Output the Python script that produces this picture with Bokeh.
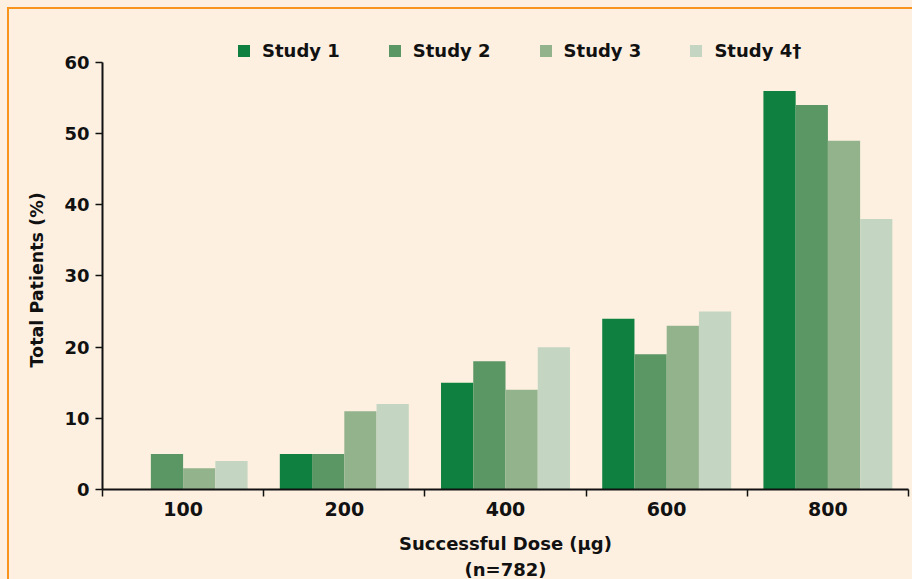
from bokeh.plotting import figure
from bokeh.models import (ColumnDataSource, Range1d, FixedTicker, Legend, LegendItem, Title)
from bokeh.transform import dodge
from bokeh.embed import file_html
from bokeh.resources import INLINE

# ---- data ----
doses = ["100", "200", "400", "600", "800"]
studies = ["Study 1", "Study 2", "Study 3", "Study 4\u2020"]
study1 = [0, 5, 15, 24, 56]
study2 = [5, 5, 18, 19, 54]
study3 = [3, 11, 14, 23, 49]
study4 = [4, 12, 20, 25, 38]
y_ticks = [0, 10, 20, 30, 40, 50, 60]

# ---- style / layout ----
BG = "#fdf0e1"
ORANGE = "#f7941e"
INK = "#111111"
FONT = "DejaVu Sans"
colors = ["#0f8040", "#5b9665", "#93b38d", "#c4d6c2"]
offsets = [-0.3, -0.1, 0.1, 0.3]
BAR_W = 0.2
Y_MAX = 60
FRAME_TOP, AXIS_TOP, FRAME_BOTTOM = 20, 62, 490      # canvas pixels
Y_END = Y_MAX * (FRAME_BOTTOM - FRAME_TOP) / (FRAME_BOTTOM - AXIS_TOP)

centers = [i + 0.5 for i in range(len(doses))]
bounds = [float(i) for i in range(len(doses) + 1)]

source = ColumnDataSource(dict(x=centers, s1=study1, s2=study2, s3=study3, s4=study4))

p = figure(width=912, height=579,
           x_range=Range1d(0, len(doses)), y_range=Range1d(0, Y_END),
           output_backend="svg", toolbar_location=None,
           background_fill_alpha=0, border_fill_alpha=0,
           min_border_left=102, min_border_right=4,
           min_border_top=FRAME_TOP, min_border_bottom=579 - FRAME_BOTTOM,
           outline_line_color=None)
p.grid.visible = False
p.styles = {
    "background": (f"linear-gradient({ORANGE}, {ORANGE}) 8px 7px / 100% 2px no-repeat, "
                   f"linear-gradient({ORANGE}, {ORANGE}) 7px 7px / 2px 100% no-repeat, {BG}")
}

renderers = []
for col, off, c in zip(["s1", "s2", "s3", "s4"], offsets, colors):
    r = p.vbar(x=dodge("x", off), top=col, width=BAR_W, bottom=0, source=source,
               fill_color=c, line_color=None)
    renderers.append(r)

# x axis: ticks at band boundaries, labels at band centers
xa = p.xaxis[0]
xa.ticker = FixedTicker(ticks=centers, minor_ticks=bounds)
xa.major_label_overrides = {c: d for c, d in zip(centers, doses)}
xa.major_tick_in = 0
xa.major_tick_out = 0
xa.minor_tick_in = 0
xa.minor_tick_out = 7
xa.minor_tick_line_color = INK
xa.minor_tick_line_width = 1.5
xa.axis_line_color = INK
xa.axis_line_width = 2
xa.major_label_standoff = 5
xa.major_label_text_font = FONT
xa.major_label_text_font_size = "19px"
xa.major_label_text_font_style = "bold"
xa.major_label_text_color = INK
xa.axis_label = "Successful Dose (\u00b5g)"
xa.axis_label_text_font = FONT
xa.axis_label_text_font_size = "18px"
xa.axis_label_text_font_style = "bold"
xa.axis_label_text_color = INK
xa.axis_label_standoff = 14

ya = p.yaxis[0]
ya.ticker = FixedTicker(ticks=y_ticks, minor_ticks=[])
ya.bounds = (0, Y_MAX)
ya.major_tick_in = 0
ya.major_tick_out = 7
ya.major_tick_line_color = INK
ya.major_tick_line_width = 1.5
ya.axis_line_color = INK
ya.axis_line_width = 2
ya.major_label_standoff = 6
ya.major_label_text_font = FONT
ya.major_label_text_font_size = "18px"
ya.major_label_text_font_style = "bold"
ya.major_label_text_color = INK

# y axis title, centred on the drawn axis (0..60) rather than on the taller frame
p.add_layout(Title(text="Total Patients (%)", align="left", offset=122, standoff=30,
                   text_font=FONT, text_font_size="17.5px", text_font_style="bold",
                   text_color=INK), "left")

p.add_layout(Title(text="(n=782)", align="center", text_font=FONT,
                   text_font_size="18px", text_font_style="bold",
                   text_color=INK, standoff=0), "below")

legend = Legend(items=[LegendItem(label=s, renderers=[r]) for s, r in zip(studies, renderers)],
                orientation="horizontal", location=(134, FRAME_BOTTOM - AXIS_TOP),
                glyph_width=15, glyph_height=15, label_standoff=11, spacing=47,
                label_height=20,
                label_text_font=FONT, label_text_font_size="18px",
                label_text_font_style="bold", label_text_color=INK,
                padding=0, margin=0, border_line_color=None,
                background_fill_alpha=0)
p.add_layout(legend)

open("out.html", "w").write(file_html(p, INLINE))
